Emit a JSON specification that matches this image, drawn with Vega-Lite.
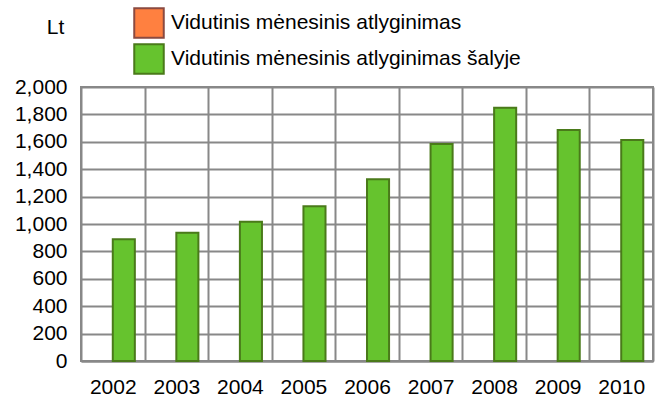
{
  "$schema": "https://vega.github.io/schema/vega-lite/v6.json",
  "width": 572,
  "height": 274,
  "autosize": "none",
  "padding": {"left": 81, "top": 87, "right": 7, "bottom": 41},
  "background": "white",
  "config": {
    "font": "Liberation Sans",
    "view": {"stroke": "#888888", "strokeWidth": 2},
    "axis": {"labelFont": "Liberation Sans", "labelFontSize": 21, "labelColor": "#000000", "gridColor": "#888888", "gridWidth": 2, "gridOpacity": 1, "domainColor": "#888888", "domainWidth": 2, "ticks": false}
  },
  "data": {
    "values": [
      {"year": "2002", "series": "Vidutinis mėnesinis atlyginimas šalyje", "value": 888},
      {"year": "2003", "series": "Vidutinis mėnesinis atlyginimas šalyje", "value": 936},
      {"year": "2004", "series": "Vidutinis mėnesinis atlyginimas šalyje", "value": 1017},
      {"year": "2005", "series": "Vidutinis mėnesinis atlyginimas šalyje", "value": 1129},
      {"year": "2006", "series": "Vidutinis mėnesinis atlyginimas šalyje", "value": 1326},
      {"year": "2007", "series": "Vidutinis mėnesinis atlyginimas šalyje", "value": 1584},
      {"year": "2008", "series": "Vidutinis mėnesinis atlyginimas šalyje", "value": 1849},
      {"year": "2009", "series": "Vidutinis mėnesinis atlyginimas šalyje", "value": 1686},
      {"year": "2010", "series": "Vidutinis mėnesinis atlyginimas šalyje", "value": 1613}
    ]
  },
  "mark": {"type": "bar", "strokeWidth": 2},
  "encoding": {
    "x": {
      "field": "year", "type": "ordinal",
      "scale": {"paddingInner": 0, "paddingOuter": 0},
      "axis": {"title": null, "labelAngle": 0, "grid": true, "tickBand": "extent", "labelPadding": 15, "domain": true}
    },
    "xOffset": {
      "field": "series", "type": "nominal",
      "scale": {"domain": ["Vidutinis mėnesinis atlyginimas", "Vidutinis mėnesinis atlyginimas šalyje"], "paddingInner": 0, "paddingOuter": 0.44}
    },
    "y": {
      "field": "value", "type": "quantitative",
      "scale": {"domain": [0, 2000], "nice": false},
      "axis": {"values": [0, 200, 400, 600, 800, 1000, 1200, 1400, 1600, 1800, 2000], "format": ",d", "title": "Lt", "titleAngle": 0, "titleX": -26, "titleY": -60, "titleAlign": "center", "titleBaseline": "middle", "titleFont": "Liberation Sans", "titleFontSize": 21, "titleFontWeight": "normal", "titleColor": "#000000", "labelPadding": 14, "domain": false}
    },
    "color": {
      "field": "series", "type": "nominal",
      "scale": {"domain": ["Vidutinis mėnesinis atlyginimas", "Vidutinis mėnesinis atlyginimas šalyje"], "range": ["#ff8040", "#66c32e"]},
      "legend": {"title": null, "orient": "none", "legendX": 52, "legendY": -80, "direction": "vertical", "symbolType": "square", "symbolSize": 870, "symbolStrokeWidth": 2, "symbolOpacity": 1, "labelFontSize": 21, "labelFont": "Liberation Sans", "labelColor": "#000000", "rowPadding": -2, "labelOffset": 6, "padding": 0, "labelLimit": 600}
    },
    "stroke": {
      "field": "series", "type": "nominal",
      "scale": {"domain": ["Vidutinis mėnesinis atlyginimas", "Vidutinis mėnesinis atlyginimas šalyje"], "range": ["#8b4a40", "#4a7a1a"]},
      "legend": null
    }
  }
}
